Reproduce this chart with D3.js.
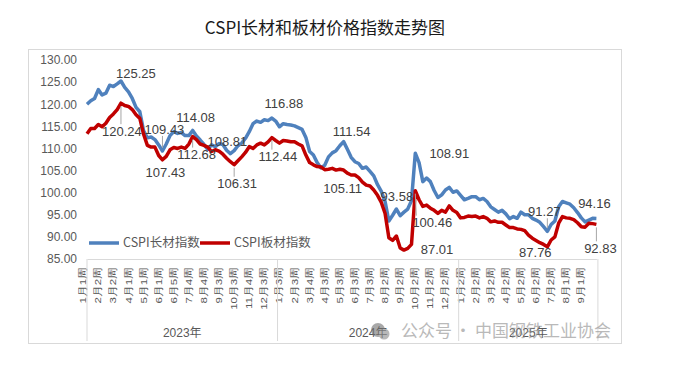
<!DOCTYPE html>
<html>
<head>
<meta charset="utf-8">
<script src="https://cdn.jsdelivr.net/npm/d3@7/dist/d3.min.js"></script>
<style>
  body { margin: 0; background: #fff; }
  svg { display: block; font-family: "Liberation Sans", "Noto Sans CJK SC", sans-serif; }
</style>
</head>
<body>
<svg></svg>
<script>
// данные: недельные индексы CSPI
const longValues = [
    120.0, 120.8, 121.3, 123.3, 122.1, 122.5, 124.3, 124.0, 124.6, 125.25,
    123.8, 122.8, 121.3, 119.3, 118.3, 114.0, 112.4, 112.6, 112.0, 110.8,
    109.43, 111.0, 112.9, 113.8, 113.4, 113.6, 112.9, 112.9, 114.08, 112.8,
    111.9, 110.9, 109.8, 110.8, 110.4, 111.1, 110.9, 109.6, 108.81, 109.5,
    110.6, 111.2, 112.3, 113.8, 115.6, 116.2, 115.9, 116.5, 116.3, 116.88,
    116.2, 114.9, 115.6, 115.4, 115.3, 115.1, 114.7, 114.3, 112.5, 109.3,
    108.5, 106.8, 105.6, 106.2, 108.1, 109.0, 109.5, 110.6, 111.54, 109.8,
    108.0, 107.0, 106.6, 105.5, 105.8, 104.8, 103.8, 101.8, 100.3, 98.0,
    93.58, 94.9, 96.3, 94.8, 95.6, 96.3, 98.2, 108.91, 106.8, 102.5,
    103.3, 102.5, 100.5, 98.9, 99.5, 100.6, 101.2, 100.1, 100.4, 99.4,
    98.4, 98.7, 99.1, 99.1, 98.4, 98.7, 98.0, 96.8, 96.2, 95.6,
    96.0, 95.2, 94.1, 94.6, 94.2, 95.6, 95.0, 95.0, 94.2, 93.8,
    93.3, 92.3, 91.27, 92.8, 93.6, 96.8, 98.0, 97.7, 97.4, 96.6,
    95.5, 94.3, 93.4, 93.8, 94.2, 94.16
];
const plateValues = [
    113.3, 114.5, 114.5, 115.4, 114.9, 115.7, 117.0, 117.8, 118.8, 120.24,
    119.7, 119.5, 118.8, 117.6, 116.8, 113.2, 110.7, 110.3, 110.3, 108.4,
    107.43, 108.2, 109.7, 110.2, 110.0, 110.3, 110.0, 111.0, 112.68, 112.0,
    111.0, 110.7, 110.3, 109.3, 109.7, 109.4, 108.7, 107.8, 107.0, 106.31,
    107.2, 108.1, 109.1, 110.4, 110.0, 110.8, 111.2, 110.8, 111.5, 112.44,
    111.8, 111.2, 111.8, 111.7, 111.5, 111.5, 111.0, 110.6, 108.5, 106.8,
    106.3, 105.9, 105.8, 105.2, 105.3, 105.5, 105.1, 105.3, 105.11, 104.4,
    104.0, 104.0, 103.4, 102.4, 101.7, 101.5, 100.6, 99.4, 97.8, 95.3,
    89.8, 89.2, 90.2, 87.5, 87.01, 87.4, 88.3, 100.46, 98.4, 96.9,
    97.2, 96.5, 96.0, 95.3, 96.0, 95.6, 97.0, 96.0, 95.5, 94.3,
    94.4, 94.7, 94.6, 94.7, 94.3, 94.6, 94.2, 93.4, 93.6, 93.3,
    93.3, 92.7, 92.1, 92.1, 91.8, 91.7, 91.4, 90.4, 89.7, 89.2,
    88.7, 88.3, 87.76, 89.3, 90.0, 93.1, 94.6, 94.3, 94.2, 93.9,
    93.2, 92.3, 92.2, 93.1, 93.0, 92.83
];

// подписи недель (каждая 4-я неделя)
const weekLabels = [
    "1月1周", "2月2周", "3月2周", "4月1周", "5月1周", "6月1周", "6月5周", "7月4周",
    "8月4周", "9月3周", "10月3周", "11月4周", "12月3周",
    "1月3周", "2月3周", "3月4周", "4月3周", "5月3周", "6月3周", "7月3周", "8月2周",
    "9月2周", "10月2周", "11月2周", "12月2周",
    "1月2周", "2月2周", "3月2周", "4月2周", "5月2周", "6月2周", "7月2周", "8月1周", "9月1周"
];
const years = ["2023年", "2024年", "2025年"];
const yearBreaks = [50.5, 98.5];
const yTicks = [85, 90, 95, 100, 105, 110, 115, 120, 125, 130];
const seriesNames = ["CSPI长材指数", "CSPI板材指数"];

// точки с подписями значений
const longMarked = [9, 20, 28, 38, 49, 68, 80, 87, 122, 135];
const plateMarked = [9, 20, 28, 39, 49, 68, 84, 87, 122, 135];

// смещения подписей [dx, dy, выноска]
const longShift = [[15, -8, 0], [2, -22, 1], [3, -13, 0], [-3, -12, 0], [12, -15, 0],
    [8, -10, 0], [8, -25, 0], [34, 0, 0], [-3, -20, 1], [-2, -15, 0]];
const plateShift = [[1, 28, 1], [3, 13, 0], [4, 18, 1], [3, 19, 1], [6, 19, 1],
    [-1, 18, 0], [33, -1, 0], [17, 32, 1], [-12, 6, 0], [4, 24, 1]];

const colors = ["#4f81bd", "#c00000"];
const grey = "#595959";

const svg = d3.select("svg").attr("width", 676).attr("height", 369);

const x = d3.scaleLinear().domain([0, longValues.length - 1]).range([87, 596.4]);
const y = d3.scaleLinear().domain([85, 130]).range([259, 60]);

// рамка и заголовок
svg.append("rect")
    .attr("x", 28.5).attr("y", 49.5).attr("width", 593).attr("height", 294)
    .style("fill", "none").style("stroke", "#d9d9d9");

svg.append("text")
    .attr("x", 325).attr("y", 34)
    .attr("text-anchor", "middle")
    .style("font-family", "'Noto Sans CJK SC', sans-serif")
    .style("font-size", "17px")
    .style("fill", "#1a1a1a")
    .text("CSPI长材和板材价格指数走势图");

// ось Y
const yAxis = svg.append("g")
    .attr("transform", "translate(80,0)")
    .call(d3.axisLeft(y).tickValues(yTicks).tickFormat(d3.format(".2f")).tickSize(0).tickPadding(3));
yAxis.select(".domain").remove();
yAxis.selectAll("text").style("font-size", "12px").style("fill", grey);

// ось X (недели)
const xAxis = svg.append("g")
    .attr("transform", "translate(0,259)")
    .call(d3.axisBottom(x)
        .tickValues(weekLabels.map((d, i) => i * 4))
        .tickFormat((d, i) => weekLabels[i])
        .tickSize(0).tickSizeOuter(0));
xAxis.select(".domain").style("stroke", "#d9d9d9");
xAxis.selectAll("text")
    .attr("transform", "rotate(-90) scale(1,0.85)")
    .attr("x", -8).attr("y", -5.5).attr("dy", "0.35em")
    .attr("text-anchor", "end")
    .style("font-size", "11.5px")
    .style("fill", grey);

// разделители годов
const bounds = [0, ...yearBreaks, longValues.length - 1 + 0.4];
svg.append("g").selectAll("line")
    .data(bounds)
    .join("line")
    .attr("x1", d => x(d)).attr("x2", d => x(d))
    .attr("y1", 259).attr("y2", 341)
    .style("stroke", "#d9d9d9");

svg.append("g").selectAll("text")
    .data(years)
    .join("text")
    .attr("x", (d, i) => x((bounds[i] + bounds[i + 1]) / 2))
    .attr("y", 337)
    .attr("text-anchor", "middle")
    .style("font-size", "12px")
    .style("fill", grey)
    .text(d => d);

// линии серий
const line = d3.line().x((d, i) => x(i)).y(d => y(d));
[longValues, plateValues].forEach((vals, k) => {
    svg.append("path")
        .datum(vals)
        .attr("d", line)
        .style("fill", "none")
        .style("stroke", colors[k])
        .style("stroke-width", 3.5)
        .style("stroke-linejoin", "round");
});

// подписи значений
function drawLabels(vals, marked, shift) {
    const g = svg.append("g");
    marked.forEach((idx, j) => {
        const px = x(idx), py = y(vals[idx]);
        const [dx, dy, lead] = shift[j];
        const lx = px + dx, ly = py + dy;
        if (lead) {
            const s = dy > 0 ? 1 : -1;
            const ex = px + Math.sign(dx) * Math.max(0, Math.abs(dx) - 16);
            g.append("line")
                .attr("x1", px).attr("y1", py + s * 3)
                .attr("x2", ex).attr("y2", ly - s * 7)
                .style("stroke", "#a6a6a6").style("stroke-width", 1);
        }
        g.append("text")
            .attr("x", lx).attr("y", ly)
            .attr("dy", "0.35em")
            .attr("text-anchor", "middle")
            .style("font-size", "13px")
            .style("fill", "#404040")
            .text(d3.format(".2f")(vals[idx]));
    });
}
drawLabels(longValues, longMarked, longShift);
drawLabels(plateValues, plateMarked, plateShift);

// легенда
const legend = svg.append("g").attr("transform", "translate(89,243)");
seriesNames.forEach((name, k) => {
    const item = legend.append("g").attr("transform", `translate(${k * 111},0)`);
    item.append("line")
        .attr("x1", 0).attr("x2", 30)
        .style("stroke", colors[k]).style("stroke-width", 3.5);
    item.append("text")
        .attr("x", 34).attr("dy", "0.35em")
        .style("font-family", "'Noto Sans CJK SC', sans-serif")
        .style("font-size", "12.5px")
        .style("fill", grey)
        .text(name);
});

// водяной знак
const wm = svg.append("g").style("opacity", 0.6);
wm.append("circle").attr("cx", 378).attr("cy", 330).attr("r", 7).style("fill", "#707070");
wm.append("circle").attr("cx", 384).attr("cy", 334).attr("r", 5.5).style("fill", "#8a8a8a");
wm.append("text").attr("x", 401).attr("y", 337)
    .style("font-family", "'Noto Sans CJK SC', sans-serif")
    .style("font-size", "17px").style("fill", "#8c8c8c")
    .text("公众号");
wm.append("text").attr("x", 463).attr("y", 337).attr("text-anchor", "middle")
    .style("font-family", "'Noto Sans CJK SC', sans-serif")
    .style("font-size", "17px").style("fill", "#8c8c8c")
    .text("·");
wm.append("text").attr("x", 475).attr("y", 337)
    .style("font-family", "'Noto Sans CJK SC', sans-serif")
    .style("font-size", "17px").style("fill", "#8c8c8c")
    .text("中国钢铁工业协会");
</script>
</body>
</html>
